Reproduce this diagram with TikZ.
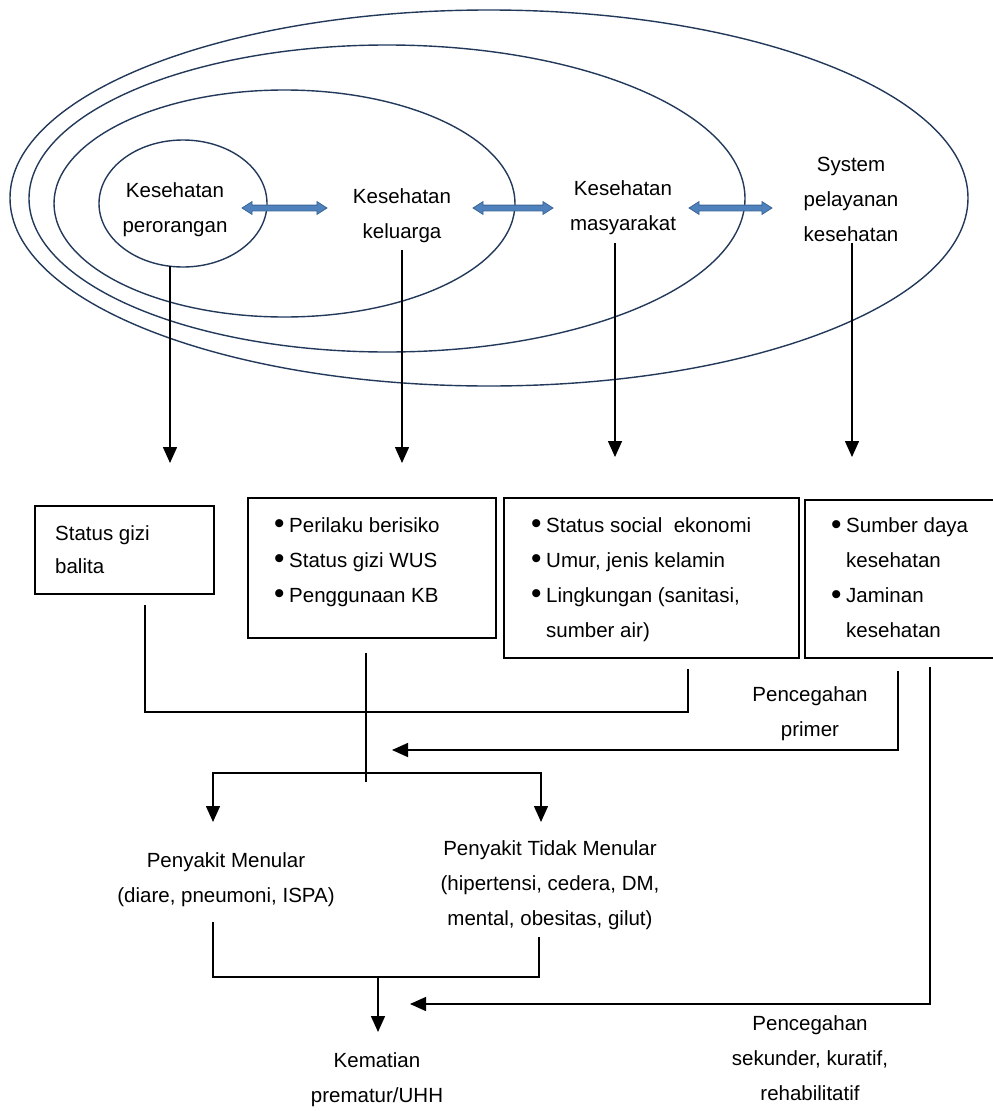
\documentclass[tikz,border=0pt]{standalone}
\usepackage{fontspec}
\setmainfont{Liberation Sans}
\usetikzlibrary{shapes.geometric,shapes.arrows,arrows.meta}
\definecolor{ringc}{HTML}{22395A}
\definecolor{blkfill}{HTML}{4F81BD}
\definecolor{blkline}{HTML}{3A6696}
\newcommand{\blt}{\makebox[15pt][l]{\raisebox{-1.6pt}{\scalebox{1.45}{\textbullet}}}}
\begin{document}
\begin{tikzpicture}[x=1pt,y=-1pt,
  every node/.style={font=\fontsize{20.5}{35}\selectfont, inner sep=0pt},
  ring/.style={ellipse, draw=ringc, line width=1.4pt, inner sep=0pt},
  lbl/.style={align=center},
  boxtxt/.style={align=left, anchor=west},
  box/.style={rectangle, draw=black, line width=1.8pt, anchor=north west, inner sep=0pt},
  conn/.style={draw=black, line width=1.5pt},
  arr/.style={conn, -{Triangle[length=16pt,width=14pt]}},
  blk/.style={double arrow, draw=blkline, fill=blkfill, line width=0.8pt,
    text height=5pt, text depth=0pt, inner sep=0pt, text width=0pt,
    double arrow head extend=3.5pt, double arrow tip angle=65}
]
\useasboundingbox (0,0) rectangle (993,1111);
\clip (0,0) rectangle (993,1111);

% nested ellipses
\node[ring, minimum width=958pt, minimum height=376pt] (sys) at (489,198) {};
\node[ring, minimum width=716pt, minimum height=307pt] (mas) at (387,198.5) {};
\node[ring, minimum width=461pt, minimum height=227pt] (kel) at (284.5,203.5) {};
\node[ring, minimum width=168pt, minimum height=127pt] (per) at (183,203.5) {};

% labels in the ellipses
\node[lbl] (tper) at (175,209.5) {Kesehatan\\perorangan};
\node[lbl] (tkel) at (402,216) {Kesehatan\\keluarga};
\node[lbl] (tmas) at (623,207.5) {Kesehatan\\masyarakat};
\node[lbl] (tsys) at (851,199.5) {System\\pelayanan\\kesehatan};

% block double arrows
\node[blk, minimum height=85pt] (da1) at (284.5,208) {};
\node[blk, minimum height=80pt] (da2) at (513,208) {};
\node[blk, minimum height=83pt] (da3) at (730.5,208) {};

% boxes
\node[box, minimum width=179pt, minimum height=88pt] (b1) at (34,505) {};
\node[box, minimum width=248pt, minimum height=140pt] (b2) at (247,497) {};
\node[box, minimum width=295pt, minimum height=160pt] (b3) at (503,497) {};
\node[box, minimum width=200pt, minimum height=158pt] (b4) at (804,499) {};

\node[boxtxt] (t1) at (55,550) {Status gizi\\[-2pt]balita};
\node[boxtxt] (t2) at (274,562) {\blt Perilaku berisiko\\\blt Status gizi WUS\\\blt Penggunaan KB};
\node[boxtxt] (t3) at (531,579.5) {\blt Status social\ \ ekonomi\\\blt Umur, jenis kelamin\\\blt Lingkungan (sanitasi,\\\hspace*{15pt}sumber air)};
\node[boxtxt] (t4) at (831,578) {\blt Sumber daya\\\hspace*{15pt}kesehatan\\\blt Jaminan\\\hspace*{15pt}kesehatan};

% lower labels
\node[lbl] (pm) at (226,880) {Penyakit Menular\\(diare, pneumoni, ISPA)};
\node[lbl] (ptm) at (550,885) {Penyakit Tidak Menular\\(hipertensi, cedera, DM,\\mental, obesitas, gilut)};
\node[lbl] (km) at (377,1080) {Kematian\\prematur/UHH};
\node[lbl] (pp) at (810,713.5) {Pencegahan\\primer};
\node[lbl] (ps) at (810,1058) {Pencegahan\\sekunder, kuratif,\\rehabilitatif};

% coordinates for connector ends
\coordinate (s1) at (170,266);  \coordinate (e1) at (170,463);
\coordinate (s2) at (402,250);  \coordinate (e2) at (402,463);
\coordinate (s3) at (615,243);  \coordinate (e3) at (615,457);
\coordinate (s4) at (852,243);  \coordinate (e4) at (852,457);

\draw[arr] (s1) -- (e1);
\draw[arr] (s2) -- (e2);
\draw[arr] (s3) -- (e3);
\draw[arr] (s4) -- (e4);

% merge of box1 and box3
\coordinate (m1) at (145,605); \coordinate (m2) at (145,712);
\coordinate (m3) at (688,712); \coordinate (m4) at (688,669);
\draw[conn] (m1) -- (m2) -- (m3) -- (m4);

% from box2 down
\coordinate (v1) at (366,653); \coordinate (v2) at (366,782);
\draw[conn] (v1) -- (v2);

% branch to the two diseases
\coordinate (al) at (213,822); \coordinate (bl) at (213,773);
\coordinate (br) at (541,773); \coordinate (ar) at (541,822);
\draw[conn, {Triangle[length=16pt,width=14pt]}-{Triangle[length=16pt,width=14pt]}] (al) -- (bl) -- (br) -- (ar);

% primary prevention
\coordinate (pr1) at (898,671); \coordinate (pr2) at (898,750); \coordinate (pr3) at (392,750);
\draw[arr] (pr1) -- (pr2) -- (pr3);

% secondary prevention
\coordinate (se1) at (930,667); \coordinate (se2) at (930,1004); \coordinate (se3) at (410,1004);
\draw[arr] (se1) -- (se2) -- (se3);

% merge of diseases
\coordinate (d1) at (213,922); \coordinate (d2) at (213,977);
\coordinate (d3) at (539,977); \coordinate (d4) at (539,937);
\draw[conn] (d1) -- (d2) -- (d3) -- (d4);
\coordinate (k1) at (378,977); \coordinate (k2) at (378,1032);
\draw[arr] (k1) -- (k2);
\end{tikzpicture}
\end{document}
